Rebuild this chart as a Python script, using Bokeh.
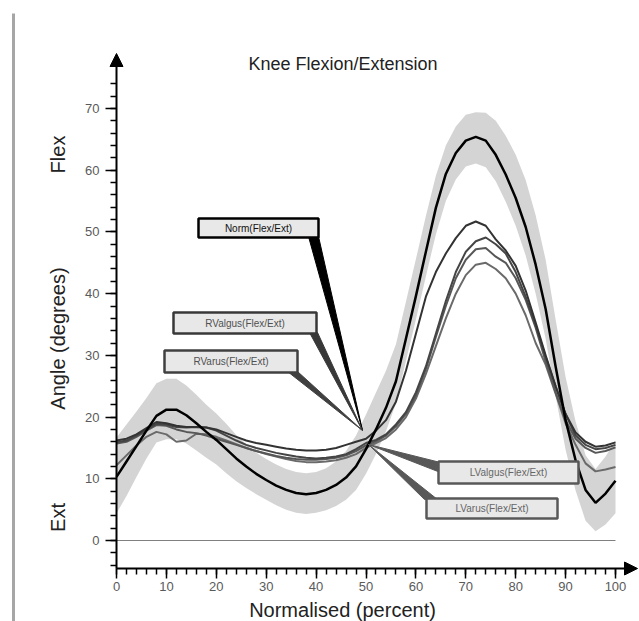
import math
from bokeh.plotting import figure
from bokeh.models import Range1d, FixedTicker, Label, Arrow, NormalHead, LinearAxis
from bokeh.core.properties import value
from bokeh.embed import file_html
from bokeh.resources import INLINE

# ---------------- data ----------------
pct = list(range(0, 101, 2))

norm_mean = [10.3, 12.8, 15.3, 17.8, 20.2, 21.2, 21.2, 20.3, 19.0, 17.6,
             16.3, 14.8, 13.3, 12.0, 10.8, 9.8, 8.9, 8.2, 7.7, 7.5,
             7.7, 8.2, 9.0, 10.2, 12.0, 14.8, 18.0, 21.5, 25.8, 32.7,
             39.6, 46.8, 53.9, 59.4, 62.8, 64.8, 65.4, 64.8, 62.5, 59.3,
             55.5, 50.8, 44.7, 37.5, 28.2, 19.5, 13.0, 8.2, 6.1, 7.6, 9.7]
# band: upper and lower edges of the normal corridor (offsets above / below the mean)
norm_sd_hi = [6.4, 6.0, 5.6, 5.3, 5.3, 5.0, 5.0, 4.8, 4.6, 4.4,
              4.3, 4.1, 3.8, 3.6, 3.4, 3.4, 3.4, 3.4, 3.4, 3.4,
              3.4, 3.5, 3.8, 4.3, 5.0, 5.6, 6.0, 6.0, 6.0, 6.0,
              6.0, 5.8, 5.2, 4.6, 4.3, 4.2, 4.0, 4.5, 5.5, 6.3,
              7.0, 7.6, 8.0, 8.0, 7.6, 7.0, 6.3, 5.6, 5.5, 6.0, 6.5]
norm_sd_lo = [5.9, 5.6, 5.0, 4.5, 4.3, 4.8, 4.8, 4.6, 4.4, 4.2,
              4.0, 3.9, 3.7, 3.5, 3.3, 3.2, 3.2, 3.2, 3.2, 3.2,
              3.2, 3.3, 3.4, 3.6, 3.8, 4.0, 4.0, 3.8, 3.6, 3.6,
              3.8, 4.0, 4.3, 4.4, 4.3, 4.2, 4.3, 4.3, 4.3, 4.4,
              4.5, 4.6, 4.7, 4.8, 4.8, 4.8, 4.9, 5.0, 4.6, 5.0, 5.3]
r_valgus = [16.2, 16.5, 17.2, 18.2, 19.2, 19.0, 18.6, 18.4, 18.4, 18.3,
            18.0, 17.4, 16.8, 16.2, 15.8, 15.5, 15.2, 14.9, 14.7, 14.6,
            14.6, 14.7, 15.0, 15.5, 16.0, 16.5, 17.8, 19.5, 22.5, 27.5,
            33.5, 39.5, 43.5, 46.5, 49.0, 51.0, 51.7, 51.0, 48.8, 47.0,
            44.5, 40.5, 35.3, 30.0, 25.0, 20.5, 17.5, 16.0, 15.2, 15.4, 15.9]
r_varus = [15.9, 16.2, 17.0, 18.0, 18.9, 18.8, 18.4, 18.3, 18.4, 18.3,
           17.8, 17.0, 16.2, 15.5, 15.0, 14.6, 14.2, 13.9, 13.6, 13.4,
           13.3, 13.4, 13.6, 14.0, 14.8, 15.8, 16.3, 17.2, 18.8, 20.8,
           24.0, 28.2, 33.5, 38.8, 43.5, 46.8, 48.5, 49.1, 48.0, 46.5,
           43.5, 39.5, 34.8, 29.8, 25.0, 20.5, 17.0, 15.5, 14.8, 15.0, 15.5]
l_valgus = [15.7, 16.0, 16.8, 17.8, 18.7, 18.6, 18.0, 17.6, 17.4, 17.0,
            16.5, 16.0, 15.5, 15.0, 14.5, 14.1, 13.7, 13.4, 13.2, 13.1,
            13.1, 13.2, 13.4, 13.8, 14.5, 15.4, 16.1, 17.0, 18.5, 20.5,
            23.5, 27.8, 33.0, 38.0, 42.5, 45.5, 47.2, 47.4, 46.0, 45.0,
            42.5, 39.0, 34.5, 29.0, 24.0, 19.5, 16.5, 15.0, 14.2, 14.5, 15.1]
l_varus = [12.2, 13.8, 15.4, 16.8, 17.6, 17.2, 16.0, 16.2, 17.3, 17.2,
           16.8, 16.2, 15.6, 15.0, 14.5, 14.0, 13.6, 13.2, 12.9, 12.7,
           12.7, 12.8, 13.0, 13.4, 14.0, 15.0, 15.8, 16.6, 18.0, 20.0,
           23.0, 27.0, 31.5, 36.0, 40.0, 43.0, 44.7, 45.0, 44.0, 42.5,
           40.0, 36.5, 32.0, 28.5, 23.8, 19.0, 15.5, 12.5, 11.2, 11.5, 11.9]

x_major = list(range(0, 101, 10))
x_minor = list(range(0, 101, 2))
y_major = list(range(0, 71, 10))
y_minor = list(range(-4, 75, 2))

series_names = ["Norm(Flex/Ext)", "RValgus(Flex/Ext)", "RVarus(Flex/Ext)",
                "LValgus(Flex/Ext)", "LVarus(Flex/Ext)"]

# ---------------- geometry helpers (pixel -> data) ----------------
W, H = 639, 621
XPX, YPX = 4.99, 6.171          # pixels per data unit
X0PX, Y0PX = 116, 540           # pixel position of data (0, 0)


def px_x(X):
    return (X - X0PX) / XPX


def px_y(Y):
    return (Y0PX - Y) / YPX


FONT = "Liberation Sans"
p = figure(width=W, height=H, output_backend="svg", toolbar_location=None,
           x_range=Range1d(px_x(0), px_x(W)), y_range=Range1d(px_y(H), px_y(0)),
           x_axis_location=None, y_axis_location=None, min_border=0)
p.title.visible = False
p.outline_line_color = None
p.xgrid.visible = False
p.ygrid.visible = False
p.background_fill_color = "white"
p.border_fill_color = "white"

x_axis_y = px_y(568)
y_axis_top = px_y(64)
x_axis_right = px_x(628)

xaxis = LinearAxis(fixed_location=x_axis_y, bounds=(0, x_axis_right),
                   ticker=FixedTicker(ticks=x_major, minor_ticks=x_minor))
yaxis = LinearAxis(fixed_location=0, bounds=(x_axis_y, y_axis_top),
                   ticker=FixedTicker(ticks=y_major, minor_ticks=y_minor))
for ax in (xaxis, yaxis):
    ax.axis_line_color = "black"
    ax.axis_line_width = 2
    ax.major_tick_line_color = "black"
    ax.minor_tick_line_color = "black"
    ax.major_tick_line_width = 1.5
    ax.minor_tick_line_width = 1.5
    ax.major_tick_in = 0
    ax.minor_tick_in = 0
    ax.major_label_text_font = FONT
    ax.major_label_text_font_size = "13px"
    ax.major_label_text_color = "#5a5a5a"
xaxis.major_tick_out = 10
xaxis.minor_tick_out = 6
xaxis.major_label_standoff = 3
yaxis.major_tick_out = 11
yaxis.minor_tick_out = 6
yaxis.major_label_standoff = 6
p.add_layout(xaxis, "below")
p.add_layout(yaxis, "left")

# axis arrow heads
p.add_layout(Arrow(end=NormalHead(size=13, fill_color="black", line_color="black"),
                   x_start=0, y_start=px_y(70), x_end=0, y_end=px_y(53), line_alpha=0))
p.add_layout(Arrow(end=NormalHead(size=13, fill_color="black", line_color="black"),
                   x_start=px_x(615), y_start=x_axis_y, x_end=px_x(637), y_end=x_axis_y,
                   line_alpha=0))

# page border line on the left
p.add_layout(Arrow(end=None, x_start=px_x(13), y_start=px_y(13), x_end=px_x(13), y_end=px_y(H),
                   line_color="#a6a6a6", line_width=3))

# normal band
upper = [m + s for m, s in zip(norm_mean, norm_sd_hi)]
lower = [m - s for m, s in zip(norm_mean, norm_sd_lo)]
p.varea(x=pct, y1=lower, y2=upper, fill_color="#d4d4d4")

# zero line
p.segment(x0=[pct[0]], y0=[0], x1=[pct[-1]], y1=[0], line_color="#808080", line_width=1)

# series lines
p.line(pct, l_varus, line_color="#6a6a6a", line_width=2)
p.line(pct, l_valgus, line_color="#575757", line_width=2)
p.line(pct, r_varus, line_color="#454545", line_width=2)
p.line(pct, r_valgus, line_color="#333333", line_width=2)
p.line(pct, norm_mean, line_color="black", line_width=2.5)

# ---------------- callouts ----------------
r_apex = (px_x(362), px_y(430))
l_apex = (px_x(368), px_y(444))

callouts = [
    (series_names[0], (198, 318, 218, 237), [(308, 236), (318, 236)], r_apex, "#000000", "#111111"),
    (series_names[1], (173, 316, 312, 333), [(309, 332), (317, 332)], r_apex, "#383838", "#505050"),
    (series_names[2], (164, 297, 350, 372), [(287, 371), (297, 371)], r_apex, "#404040", "#505050"),
    (series_names[3], (438, 578, 461, 483), [(440, 462), (440, 472)], l_apex, "#585858", "#666666"),
    (series_names[4], (426, 557, 498, 518), [(424, 499), (437, 499)], l_apex, "#585858", "#666666"),
]

for name, (X0, X1, Y0, Y1), base, apex, col, tcol in callouts:
    xs = [px_x(base[0][0]), px_x(base[1][0]), apex[0]]
    ys = [px_y(base[0][1]), px_y(base[1][1]), apex[1]]
    p.patch(xs, ys, fill_color=col, line_color=col, line_width=1)
for name, (X0, X1, Y0, Y1), base, apex, col, tcol in callouts:
    p.quad(left=[px_x(X0)], right=[px_x(X1)], top=[px_y(Y0)], bottom=[px_y(Y1)],
           fill_color="#e8e8e8", line_color=col, line_width=2.5)
    p.text(x=[(px_x(X0) + px_x(X1)) / 2], y=[(px_y(Y0) + px_y(Y1)) / 2], text=[name],
           text_font=value(FONT), text_font_size="10px", text_color=tcol,
           text_align="center", text_baseline="middle")

# ---------------- texts ----------------
p.add_layout(Label(x=px_x(342.5), y=px_y(63), text="Knee Flexion/Extension",
                   text_font=FONT, text_font_size="18px", text_color="#222222",
                   text_align="center", text_baseline="alphabetic"))
p.add_layout(Label(x=px_x(342), y=px_y(609), text="Normalised (percent)",
                   text_font=FONT, text_font_size="20px", text_color="#222222",
                   text_align="center", text_baseline="alphabetic"))
p.add_layout(Label(x=px_x(57), y=px_y(338), text="Angle (degrees)", angle=math.pi / 2,
                   text_font=FONT, text_font_size="20px", text_color="#222222",
                   text_align="center", text_baseline="middle"))
p.add_layout(Label(x=px_x(57), y=px_y(154), text="Flex", angle=math.pi / 2,
                   text_font=FONT, text_font_size="20px", text_color="#222222",
                   text_align="center", text_baseline="middle"))
p.add_layout(Label(x=px_x(57), y=px_y(517), text="Ext", angle=math.pi / 2,
                   text_font=FONT, text_font_size="20px", text_color="#222222",
                   text_align="center", text_baseline="middle"))

open("out.html", "w").write(file_html(p, INLINE))
